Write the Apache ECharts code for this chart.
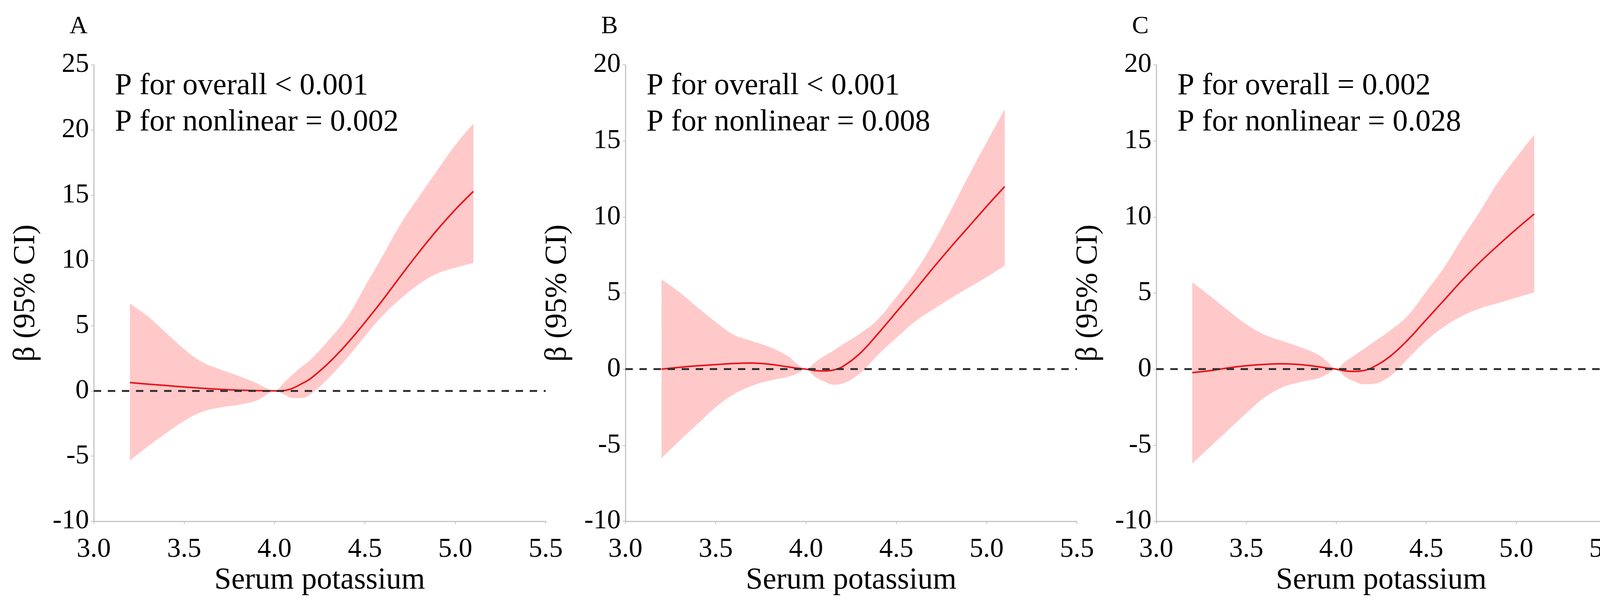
<!DOCTYPE html>
<html>
<head>
<meta charset="utf-8">
<title>Serum potassium RCS</title>
<script src="https://cdn.jsdelivr.net/npm/echarts@6/dist/echarts.min.js"></script>
<style>
    html, body { margin: 0; padding: 0; background: #fff; }
    #main { width: 4211px; height: 1538px; }
</style>
</head>
<body>
<div id="main"></div>
<script>
// serum potassium values where the curves were read
var xs = [3.2, 3.3, 3.4, 3.5, 3.6, 3.7, 3.8, 3.9, 3.95, 4.0, 4.05, 4.1, 4.15, 4.2, 4.3, 4.4, 4.5, 4.6, 4.7, 4.8, 4.9, 5.0, 5.1];

// panel A
var estA = [0.64, 0.52, 0.41, 0.30, 0.20, 0.12, 0.06, 0.02, 0.01, 0, 0.02, 0.20, 0.55, 0.95, 2.15, 3.6, 5.25, 7.0, 8.85, 10.65, 12.35, 13.9, 15.3];
var lowA = [-5.35, -4.25, -3.25, -2.3, -1.6, -1.27, -1.07, -0.75, -0.35, 0, -0.25, -0.55, -0.55, -0.25, 1.0, 2.5, 4.2, 5.8, 7.1, 8.2, 9.0, 9.45, 9.8];
var upA = [6.7, 5.7, 4.45, 3.2, 2.2, 1.65, 1.15, 0.6, 0.25, 0, 0.6, 1.25, 1.85, 2.4, 3.9, 5.6, 8.0, 10.4, 12.85, 14.9, 16.9, 18.85, 20.5];

// panel B
var estB = [0, 0.12, 0.22, 0.30, 0.37, 0.40, 0.32, 0.15, 0.06, 0, -0.10, -0.12, -0.06, 0.15, 1.05, 2.35, 3.75, 5.15, 6.6, 8.0, 9.35, 10.7, 12.0];
var lowB = [-5.85, -4.7, -3.6, -2.5, -1.65, -1.1, -0.75, -0.5, -0.3, 0, -0.5, -0.8, -1.02, -0.95, -0.26, 0.96, 2.05, 3.1, 3.9, 4.65, 5.35, 6.05, 6.8];
var upB = [5.9, 5.05, 4.05, 3.1, 2.26, 1.85, 1.45, 0.85, 0.35, 0, 0.45, 0.85, 1.2, 1.6, 2.35, 3.3, 4.75, 6.3, 8.2, 10.4, 12.7, 14.9, 17.1];

// panel C
var estC = [-0.23, -0.10, 0.08, 0.22, 0.31, 0.35, 0.30, 0.16, 0.07, 0, -0.12, -0.15, -0.10, 0.10, 0.85, 1.95, 3.25, 4.55, 5.85, 7.05, 8.15, 9.2, 10.2];
var lowC = [-6.2, -5.1, -4.0, -2.9, -1.88, -1.2, -0.85, -0.6, -0.32, 0, -0.5, -0.8, -1.0, -0.98, -0.45, 0.72, 1.87, 2.8, 3.5, 4.0, 4.35, 4.7, 5.04];
var upC = [5.7, 4.8, 3.85, 2.95, 2.28, 1.85, 1.45, 0.95, 0.5, 0, 0.5, 0.9, 1.3, 1.72, 2.55, 3.55, 5.1, 6.7, 8.6, 10.4, 12.3, 13.9, 15.4];

var letters = ['A', 'B', 'C'];
var yMaxes = [25, 20, 20];
var pOverall = ['P for overall < 0.001', 'P for overall < 0.001', 'P for overall = 0.002'];
var pNonlinear = ['P for nonlinear = 0.002', 'P for nonlinear = 0.008', 'P for nonlinear = 0.028'];

var FONT = 'Liberation Serif';
var lefts = [240, 1601, 2960];
var widths = [1157, 1156, 1152];

var curves = [
    {est: estA, low: lowA, up: upA},
    {est: estB, low: lowB, up: upB},
    {est: estC, low: lowC, up: upC}
];

function pairs(vals) {
    return xs.map(function (x, i) { return [x, vals[i]]; });
}
// value first, so the stack runs on the y dimension
function stackPairs(vals) {
    return xs.map(function (x, i) { return [vals[i], x]; });
}

var grids = [], xAxes = [], yAxes = [], series = [], titles = [];

curves.forEach(function (c, i) {
    grids.push({left: lefts[i], width: widths[i], top: 166, bottom: 204});

    xAxes.push({
        type: 'value', gridIndex: i, min: 3, max: 5.5, interval: 0.5,
        name: 'Serum potassium', nameLocation: 'middle', nameGap: 112,
        nameTextStyle: {fontFamily: FONT, fontSize: 78, color: '#000'},
        axisLine: {onZero: false, lineStyle: {color: '#c4c4c4', width: 3}},
        axisTick: {show: true, length: 7, lineStyle: {color: '#c4c4c4', width: 2}},
        axisLabel: {
            fontFamily: FONT, fontSize: 70, color: '#000', margin: 38,
            formatter: function (v) { return v.toFixed(1); }
        },
        splitLine: {show: false}
    });

    yAxes.push({
        type: 'value', gridIndex: i, min: -10, max: yMaxes[i], interval: 5,
        name: 'β (95% CI)', nameLocation: 'middle', nameGap: 134, nameRotate: 90,
        nameTextStyle: {fontFamily: FONT, fontSize: 78, color: '#000'},
        axisLine: {show: true, lineStyle: {color: '#c4c4c4', width: 3}},
        axisTick: {show: true, length: 7, lineStyle: {color: '#c4c4c4', width: 2}},
        axisLabel: {fontFamily: FONT, fontSize: 70, color: '#000', margin: 12},
        splitLine: {show: false}
    });

    // lower bound, invisible, base of the stacked band
    series.push({
        type: 'line', xAxisIndex: i, yAxisIndex: i,
        data: stackPairs(c.low), encode: {x: 1, y: 0},
        stack: 'ci' + i, stackStrategy: 'all',
        smooth: 0.4, symbol: 'none', silent: true,
        lineStyle: {opacity: 0}, z: 1
    });
    // band thickness on top of the lower bound
    series.push({
        type: 'line', xAxisIndex: i, yAxisIndex: i,
        data: stackPairs(c.up.map(function (v, k) { return v - c.low[k]; })),
        encode: {x: 1, y: 0},
        stack: 'ci' + i, stackStrategy: 'all',
        smooth: 0.4, symbol: 'none', silent: true,
        lineStyle: {opacity: 0},
        areaStyle: {color: '#ffc9c9', opacity: 1}, z: 1
    });
    // reference line at 0
    series.push({
        type: 'line', xAxisIndex: i, yAxisIndex: i, data: [], silent: true, z: 2,
        markLine: {
            silent: true, symbol: 'none', label: {show: false},
            lineStyle: {color: '#333', width: 5, type: [19, 17]},
            data: [{yAxis: 0}]
        }
    });
    // estimate
    series.push({
        type: 'line', xAxisIndex: i, yAxisIndex: i,
        data: pairs(c.est), smooth: 0.4, symbol: 'none', silent: true,
        lineStyle: {color: '#e8141c', width: 4}, z: 3
    });

    titles.push({
        text: letters[i], left: lefts[i] - 62, top: 36, padding: 0,
        textStyle: {fontFamily: FONT, fontSize: 64, fontWeight: 'normal', color: '#000'}
    });
    titles.push({
        text: pOverall[i] + '\n' + pNonlinear[i], left: lefts[i] + 54, top: 174, padding: 0,
        textStyle: {fontFamily: FONT, fontSize: 78, fontWeight: 'normal', color: '#000', lineHeight: 93}
    });
});

var chart = echarts.init(document.getElementById('main'));
chart.setOption({
    backgroundColor: '#fff',
    animation: false,
    title: titles,
    grid: grids,
    xAxis: xAxes,
    yAxis: yAxes,
    series: series
});
</script>
</body>
</html>
